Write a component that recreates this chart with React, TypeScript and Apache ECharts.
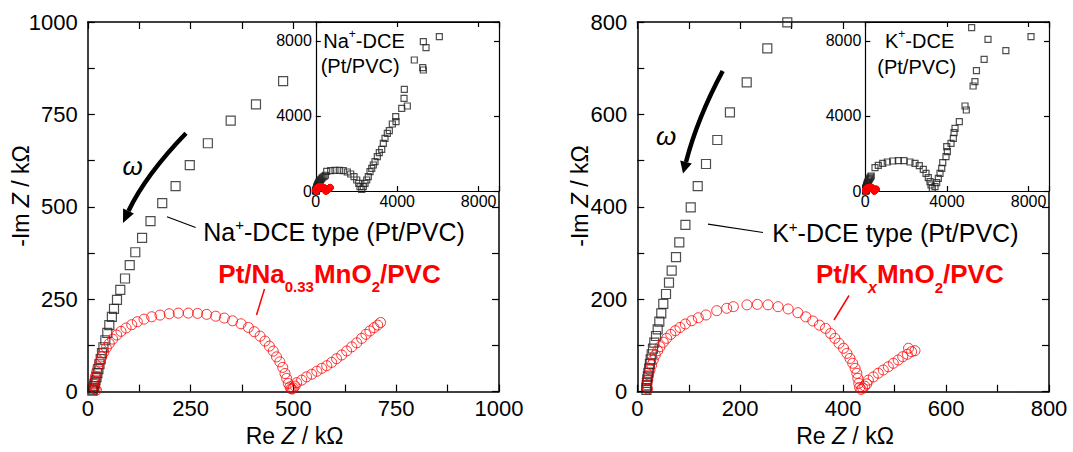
import React, { useEffect, useRef } from 'react';
import * as echarts from 'echarts';

type P = [number, number];

// Left panel (Na) – main plot, Re Z / kΩ vs -Im Z / kΩ
const naMainBlack: P[] = [
  [11, 2.7], [12, 5.4], [13.4, 9.5], [15, 15], [17, 22], [19, 30], [21.2, 39], [23.3, 50], [25.8, 61],
  [28.5, 74], [31.4, 88], [34.5, 104], [38, 120], [42.6, 139], [47.4, 159], [52.3, 180], [58.6, 202],
  [63.7, 224], [71, 248], [79, 275], [90.5, 306], [102, 342], [115.5, 377], [132, 416], [152.5, 461],
  [181, 510], [213.5, 556], [248, 613], [292, 672], [347.5, 733], [409, 777], [475, 840],
];
const naMainRed: P[] = [
  [21, 4], [18, 8], [16, 14], [15.5, 20], [16, 27], [18.2, 40], [21.6, 53.6], [24.8, 67], [28.9, 80.6],
  [33.8, 94], [38.7, 106], [45, 118.5], [52.3, 130], [60.5, 142], [70.3, 153], [80.7, 163], [93, 172],
  [106.8, 181], [120.4, 189], [136.7, 196], [155.4, 202.5], [175.6, 207], [198, 210.6], [220, 212.4],
  [244.4, 212.4], [267, 211.6], [289, 209], [311, 204], [332, 199], [352, 191.6], [372.6, 183.5],
  [390.5, 173.7], [405, 162], [419, 150], [431, 136.7], [441.5, 123], [451, 109.6], [459, 94],
  [467, 80.6], [474, 65.5], [479.6, 49], [483.6, 35.7], [487.6, 22], [491.7, 13], [494, 8], [497, 7],
  [500, 10], [504, 15], [508, 24], [520, 31], [532, 40], [544.5, 47], [557, 55], [569, 63], [581, 70],
  [593, 79], [605, 89], [617.5, 99], [629.6, 110], [641.8, 121], [654, 132], [666, 144], [676.5, 155],
  [686, 164], [696, 173], [705, 180], [712, 187],
];
// Left inset: further low-frequency points of the Na+-DCE electrode
const naInsetBlack: P[] = [
  [535, 1049], [732, 1081], [943, 1102], [1155, 1102], [1351, 1081], [1548, 1012], [1715, 905],
  [1877, 761], [2010, 586], [2108, 410], [2172, 229], [2255, 90], [2335, 229], [2418, 410], [2501, 586],
  [2580, 761], [2663, 1028], [2747, 1209], [2826, 1384], [2909, 1560], [3022, 1826], [3120, 2039],
  [3238, 2220], [3317, 2540], [3400, 2806], [3513, 3072], [3612, 3211], [3759, 3568], [3926, 3957],
  [3941, 3690], [4221, 4404], [4334, 4936], [4349, 5415], [4496, 4526], [4840, 6976], [5253, 6566],
  [5283, 6443], [5283, 7950], [5415, 7631], [6069, 8216],
];

// Right panel (K)
const kMainBlack: P[] = [
  [17.8, 4], [18, 8], [18.3, 13], [18.8, 19], [19.5, 26], [20.5, 33], [21.5, 41], [23, 50], [24.5, 60],
  [26, 70], [28, 81], [30.5, 93], [33, 106], [36.3, 120.5], [39.6, 135], [42.8, 151.5], [46.6, 169.7],
  [50.5, 190], [55.8, 211.4], [61.6, 236], [66.8, 262], [75.2, 291], [81.6, 323], [93.5, 361],
  [103.8, 399], [117.4, 445], [133.5, 492.7], [155.5, 544.7], [180, 604.6], [212.6, 669.5],
  [252.6, 743], [291.5, 799],
];
const kMainRed: P[] = [
  [20, 6], [18.3, 14.5], [20.2, 25], [22, 36], [24.7, 47], [28, 58], [31, 68.6], [35, 79.4], [39.6, 88.7],
  [44, 97.4], [50.5, 107], [57, 115.5], [65, 124], [74, 132], [83, 139], [93.3, 146.5], [105.7, 153.6],
  [118.5, 160], [133.5, 166], [154.3, 175.3], [173.7, 180.5], [186.6, 184], [213, 188], [233.3, 189],
  [254, 188], [273.5, 184], [293.2, 179], [312, 171], [327.4, 162], [341, 153], [354, 144], [365.7, 137],
  [375.6, 126], [384, 115.5], [392, 104.7], [400.7, 94], [407.3, 83], [413.3, 72], [418.6, 61.5],
  [423.3, 50.6], [426.6, 39.8], [428.5, 29], [430.4, 18], [432, 9], [435, 5], [438, 8], [442, 12],
  [446, 17], [449, 25], [458.6, 32], [468.3, 40], [478, 47], [487.8, 54], [497.5, 61.5], [507, 68.6],
  [515.7, 75.7], [524.7, 81], [527, 94], [533, 86.6], [539.6, 88.7],
];
const kInsetBlack: P[] = [
  [475, 1241], [637, 1368], [853, 1475], [1078, 1544], [1342, 1597], [1617, 1613], [1896, 1613],
  [2190, 1544], [2435, 1475], [2646, 1347], [2842, 1155], [2975, 942], [3087, 708], [3170, 495],
  [3219, 319], [3283, 144], [3415, 229], [3498, 442], [3577, 676], [3660, 942], [3744, 1209],
  [3793, 1507], [3954, 1826], [4019, 2093], [3989, 2359], [4200, 2540], [4313, 2806], [4347, 3104],
  [4396, 3339], [4607, 3690], [4886, 4526], [4949, 4313], [5282, 5591], [5371, 5820], [5445, 6406],
  [5822, 7013], [6012, 8078], [6886, 7471], [5210, 8696], [8119, 8216],
];

const FONT = '"Liberation Sans", Arial, Helvetica, sans-serif';

function axis(gridIndex: number, pos: string, min: number, max: number,
  interval: number, labelStep: number, showLabel: boolean, fontSize: number, margin: number,
  tickLen: number, lineW: number, z: number) {
  return {
    type: 'value', gridIndex, position: pos, min, max, interval, z,
    axisLine: { show: true, onZero: false, lineStyle: { color: '#000', width: lineW } },
    axisTick: { show: true, inside: true, length: tickLen, lineStyle: { color: '#000', width: 1.2 } },
    axisLabel: {
      show: showLabel, fontSize, color: '#000', margin, fontFamily: FONT,
      showMinLabel: true, showMaxLabel: true,
      formatter: (v: number) => (Math.abs(v % labelStep) < 1e-6 ? String(v) : ''),
    },
    splitLine: { show: false },
  };
}

function pairX(g: number, max: number, interval: number, step: number, inset: boolean) {
  const fs = inset ? 16 : 22, m = inset ? 2 : 6, tl = inset ? 5 : 7, lw = inset ? 1.2 : 1.5, z = inset ? 11 : 0;
  return [axis(g, 'bottom', 0, max, interval, step, true, fs, m, tl, lw, z),
    axis(g, 'top', 0, max, interval, step, false, fs, m, tl, lw, z)];
}
function pairY(g: number, max: number, interval: number, step: number, inset: boolean) {
  const fs = inset ? 16 : 22, m = inset ? 4 : 10, tl = inset ? 5 : 7, lw = inset ? 1.2 : 1.5, z = inset ? 11 : 0;
  return [axis(g, 'left', 0, max, interval, step, true, fs, m, tl, lw, z),
    axis(g, 'right', 0, max, interval, step, false, fs, m, tl, lw, z)];
}

function scatter(xi: number, data: P[], kind: 'sq' | 'ci', size: number, z: number) {
  return {
    type: 'scatter', xAxisIndex: xi, yAxisIndex: xi, data, z, silent: true, clip: true,
    symbol: kind === 'sq' ? 'rect' : 'circle', symbolSize: size,
    itemStyle: {
      color: 'transparent', borderColor: kind === 'sq' ? '#222' : '#ff0000',
      borderWidth: kind === 'sq' ? 1.2 : 1,
    },
  };
}

function txt(x: number, y: number, text: string, rich: any, extra: any = {}) {
  return {
    type: 'text', x, y, z: 100, silent: true,
    style: { text, rich, align: 'left', verticalAlign: 'middle', fontFamily: FONT, fill: '#000', ...extra },
  };
}

// superscript raised by padding-bottom/2, subscript lowered by padding-top/2
const black = (fs: number, sup: number, raise: number) => ({
  a: { fontSize: fs, fill: '#000', fontFamily: FONT },
  s: { fontSize: sup, fill: '#000', fontFamily: FONT, padding: [0, 0, raise * 2, 0] },
});
const red = (drop: number) => ({
  a: { fontSize: 26, fill: '#ff0000', fontWeight: 'bold', fontFamily: FONT },
  b: { fontSize: 15, fill: '#ff0000', fontWeight: 'bold', fontFamily: FONT, padding: [drop * 2, 0, 0, 0] },
  x: { fontSize: 16, fill: '#ff0000', fontWeight: 'bold', fontStyle: 'italic', fontFamily: FONT, padding: [drop * 2, 0, 0, 0] },
});
const titleRich = {
  a: { fontSize: 23, fill: '#000', fontFamily: FONT },
  i: { fontSize: 23, fill: '#000', fontFamily: FONT, fontStyle: 'italic' },
};

function arrow(p0: P, p1: P, p2: P, tip: P, c1: P, c2: P) {
  return [
    { type: 'bezierCurve', z: 100, silent: true,
      shape: { x1: p0[0], y1: p0[1], cpx1: p1[0], cpy1: p1[1], x2: p2[0], y2: p2[1] },
      style: { stroke: '#000', lineWidth: 4.5, fill: null } },
    { type: 'polygon', z: 100, silent: true, shape: { points: [tip, c1, c2] }, style: { fill: '#000' } },
  ];
}

export default function App() {
  const ref = useRef<HTMLDivElement>(null);
  useEffect(() => {
    if (!ref.current) return;
    const chart = echarts.init(ref.current, null, { renderer: 'svg' });
    const option: any = {
      animation: false,
      backgroundColor: '#fff',
      textStyle: { fontFamily: FONT },
      grid: [
        { left: 87.8, top: 22, width: 411.2, height: 369.6, show: false },
        { left: 315.8, top: 22, width: 183.2, height: 169, show: true, backgroundColor: '#fff', borderWidth: 0, z: 10 },
        { left: 637.3, top: 22, width: 411.7, height: 369.7, show: false },
        { left: 865.3, top: 22, width: 183.7, height: 169, show: true, backgroundColor: '#fff', borderWidth: 0, z: 10 },
      ],
      xAxis: [
        ...pairX(0, 1000, 125, 250, false),
        ...pairX(1, 9000, 4000, 4000, true),
        ...pairX(2, 800, 100, 200, false),
        ...pairX(3, 9000, 4000, 4000, true),
      ],
      yAxis: [
        ...pairY(0, 1000, 125, 250, false),
        ...pairY(1, 9000, 4000, 4000, true),
        ...pairY(2, 800, 100, 200, false),
        ...pairY(3, 9000, 4000, 4000, true),
      ],
      series: [
        scatter(0, naMainBlack, 'sq', 9, 2),
        scatter(0, naMainRed, 'ci', 10, 3),
        scatter(2, naMainBlack.concat(naInsetBlack), 'sq', 6, 12),
        scatter(2, naMainRed, 'ci', 6.5, 13),
        scatter(4, kMainBlack, 'sq', 9, 2),
        scatter(4, kMainRed, 'ci', 10, 3),
        scatter(6, kMainBlack.concat(kInsetBlack), 'sq', 6, 12),
        scatter(6, kMainRed, 'ci', 6.5, 13),
      ],
      graphic: [
        // axis titles
        txt(294.5, 436, '{a|Re }{i|Z}{a| / kΩ}', titleRich, { align: 'center' }),
        txt(845, 436, '{a|Re }{i|Z}{a| / kΩ}', titleRich, { align: 'center' }),
        { ...txt(21, 196, '{a|-Im }{i|Z}{a| / kΩ}', titleRich, { align: 'center' }), rotation: Math.PI / 2 },
        { ...txt(580, 196, '{a|-Im }{i|Z}{a| / kΩ}', titleRich, { align: 'center' }), rotation: Math.PI / 2 },
        // annotations
        txt(203.3, 231.7, '{a|Na}{s|+}{a|-DCE type (Pt/PVC)}', black(25, 15, 7)),
        txt(772.2, 233.3, '{a|K}{s|+}{a|-DCE type (Pt/PVC)}', black(25, 15, 7)),
        txt(218.3, 274.2, '{a|Pt/Na}{b|0.33}{a|MnO}{b|2}{a|/PVC}', red(12)),
        txt(816, 274.2, '{a|Pt/K}{x|x}{a|MnO}{b|2}{a|/PVC}', red(13)),
        txt(323.3, 40.8, '{a|Na}{s|+}{a|-DCE}', black(20, 12, 7)),
        txt(320.7, 65.5, '{a|(Pt/PVC)}', black(20, 12, 0)),
        txt(885, 40.7, '{a|K}{s|+}{a|-DCE}', black(20, 12, 7)),
        txt(877.3, 66.7, '{a|(Pt/PVC)}', black(20, 12, 0)),
        txt(132.5, 166, 'ω', null, { align: 'center', fontSize: 26, fontStyle: 'italic' }),
        txt(666, 135.5, 'ω', null, { align: 'center', fontSize: 26, fontStyle: 'italic' }),
        // leader lines
        { type: 'line', z: 100, silent: true, shape: { x1: 167, y1: 216.7, x2: 195.6, y2: 227.5 }, style: { stroke: '#000', lineWidth: 1.2 } },
        { type: 'line', z: 100, silent: true, shape: { x1: 264.5, y1: 289, x2: 256.5, y2: 315 }, style: { stroke: '#ff0000', lineWidth: 1.5 } },
        { type: 'line', z: 100, silent: true, shape: { x1: 708, y1: 224.2, x2: 763, y2: 232.5 }, style: { stroke: '#000', lineWidth: 1.2 } },
        { type: 'line', z: 100, silent: true, shape: { x1: 849, y1: 295.5, x2: 834, y2: 320 }, style: { stroke: '#ff0000', lineWidth: 1.5 } },
        // frequency arrows
        ...arrow([186, 133.3], [145.7, 175], [128.5, 211], [123, 223], [133.9, 213.6], [123.1, 208.4]),
        ...arrow([722.7, 71], [697.3, 118.4], [686, 162], [683, 173.6], [691.8, 163.5], [680.2, 160.5]),
      ],
    };
    chart.setOption(option);
    return () => chart.dispose();
  }, []);
  return <div ref={ref} style={{ position: 'fixed', left: 0, top: 0, width: 1073, height: 452 }} />;
}
